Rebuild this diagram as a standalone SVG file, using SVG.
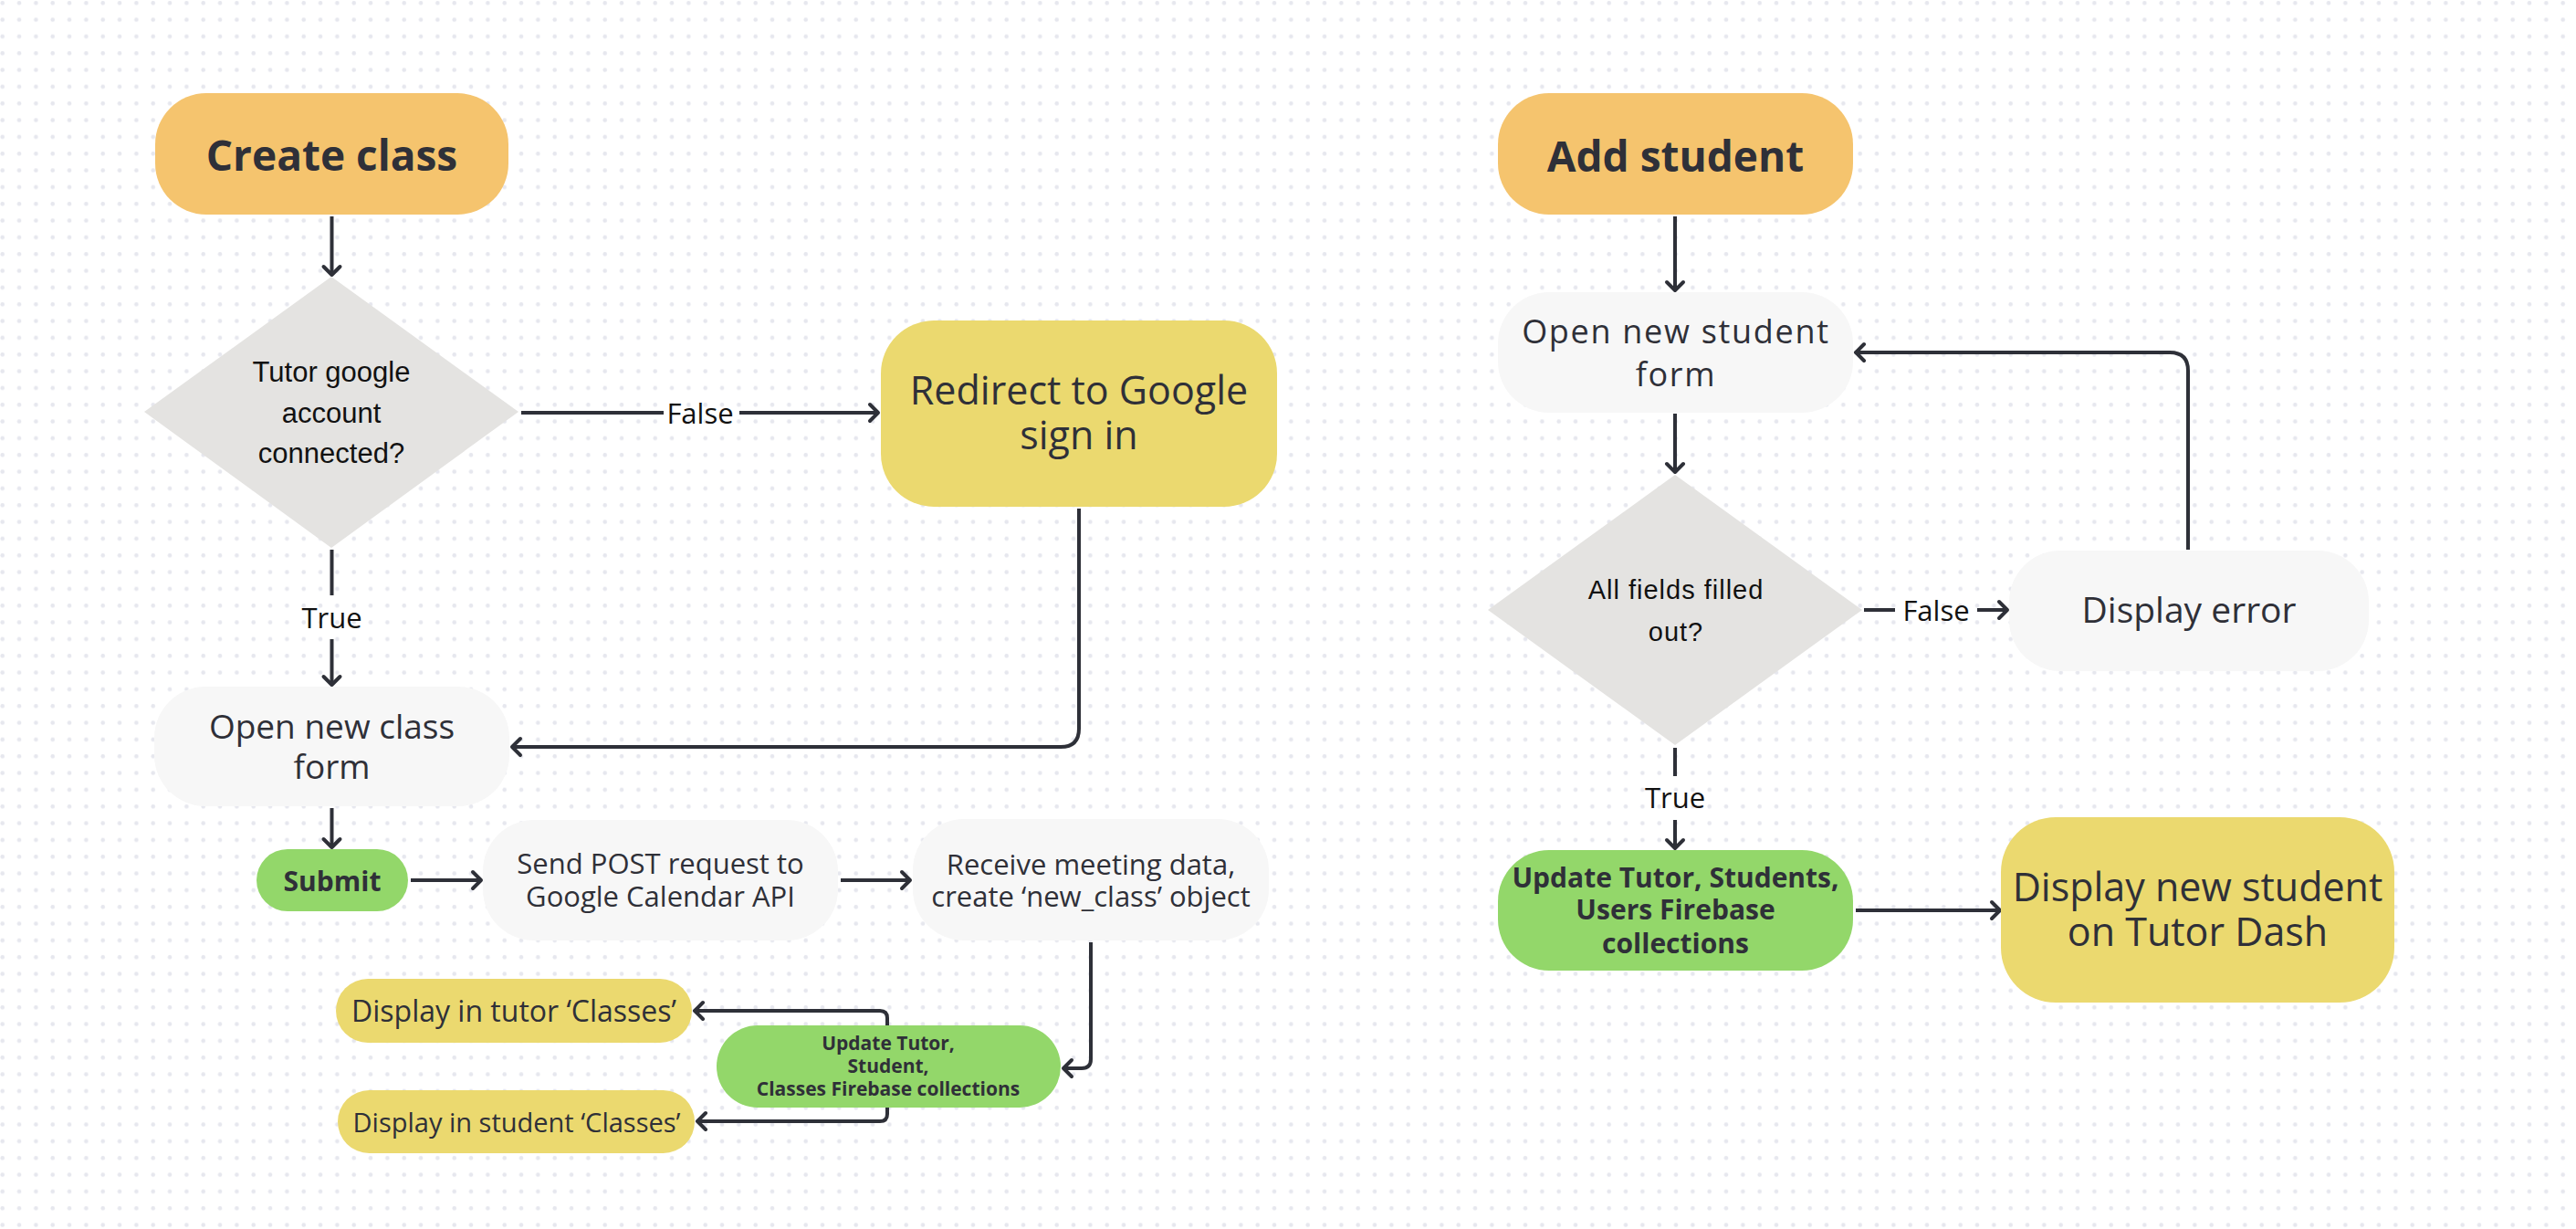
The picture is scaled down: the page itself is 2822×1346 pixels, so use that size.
<svg xmlns="http://www.w3.org/2000/svg" width="2822" height="1346" viewBox="0 0 2822 1346">
<defs>
<pattern id="dots" patternUnits="userSpaceOnUse" x="0" y="0" width="18.333" height="18.333">
<circle cx="2.7" cy="3.3" r="2.3" fill="#e6e7ee"/>
</pattern>
<marker id="arr" viewBox="-14 -13 17 26" refX="0" refY="0" markerWidth="17" markerHeight="26" markerUnits="userSpaceOnUse" orient="auto">
<path d="M-9,-9 L0,0 L-9,9" fill="none" stroke="#2e3038" stroke-width="4" stroke-linecap="round" stroke-linejoin="round"/>
</marker>
<style>
.orange{fill:#f5c46e}
.yellow{fill:#ebd96f}
.green{fill:#93d76a}
.grey{fill:#f7f7f7}
.dia{fill:#e4e3e1}
.t{font-family:"Open Sans","Liberation Sans",sans-serif;fill:#2f3038;text-anchor:middle}
.b{font-weight:700}
.a{font-family:"Liberation Sans",Arial,sans-serif;fill:#111;text-anchor:middle}
.lbl{font-family:"Open Sans","Liberation Sans",sans-serif;fill:#111;text-anchor:middle;font-size:31px}
.c{fill:none;stroke:#2e3038;stroke-width:4;stroke-linejoin:round}
.ar{marker-end:url(#arr)}
</style>
</defs>
<rect width="2822" height="1346" fill="#ffffff"/>
<rect width="2822" height="1346" fill="url(#dots)"/>

<g id="connectors">
<path class="c ar" d="M363.5,237 V301"/>
<path class="c" d="M571,452 H727"/>
<path class="c ar" d="M810,452 H962"/>
<text class="lbl" x="767" y="464">False</text>
<path class="c ar" d="M1182,557 V798 Q1182,818 1162,818 H561"/>
<path class="c" d="M363.5,602 V652"/>
<text class="lbl" x="363.5" y="688">True</text>
<path class="c ar" d="M363.5,700 V750"/>
<path class="c ar" d="M363.5,885 V928"/>
<path class="c ar" d="M450,964 H527"/>
<path class="c ar" d="M921,964 H997"/>
<path class="c ar" d="M1195,1032 V1160 Q1195,1170 1185,1170 H1165"/>
<path class="c ar" d="M972,1123 V1115 Q972,1107 964,1107 H761"/>
<path class="c ar" d="M972,1213 V1220 Q972,1228 964,1228 H764"/>

<path class="c ar" d="M1835,237 V318"/>
<path class="c ar" d="M1835,453 V517"/>
<path class="c ar" d="M2397,602 V406 Q2397,386 2377,386 H2033"/>
<path class="c" d="M2042,668 H2076"/>
<text class="lbl" x="2121" y="680">False</text>
<path class="c ar" d="M2166,668 H2199"/>
<path class="c" d="M1835,819 V850"/>
<text class="lbl" x="1835" y="885">True</text>
<path class="c ar" d="M1835,898 V929"/>
<path class="c ar" d="M2033,997 H2191"/>
</g>

<g id="create-class">
<rect class="orange" x="170" y="102" width="387" height="133" rx="56"/>
<text class="t b" x="363.5" y="187" font-size="46">Create class</text>
</g>
<g id="tutor-google-connected">
<polygon class="dia" points="363,303 568,451 363,600 158,451"/>
<text class="a" x="363" y="418" font-size="31">Tutor google</text>
<text class="a" x="363" y="463" font-size="31">account</text>
<text class="a" x="363" y="507" font-size="31">connected?</text>
</g>
<g id="redirect-google">
<rect class="yellow" x="965" y="351" width="434" height="204" rx="58"/>
<text class="t" x="1182" y="443" font-size="43">Redirect to Google</text>
<text class="t" x="1182" y="492" font-size="43">sign in</text>
</g>
<g id="open-class-form">
<rect class="grey" x="169" y="752" width="389" height="131" rx="56"/>
<text class="t" x="363.5" y="809" font-size="37">Open new class</text>
<text class="t" x="363.5" y="853" font-size="37">form</text>
</g>
<g id="submit">
<rect class="green" x="281" y="930" width="166" height="68" rx="34"/>
<text class="t b" x="364" y="976" font-size="30">Submit</text>
</g>
<g id="send-post">
<rect class="grey" x="529" y="898" width="389" height="132" rx="56"/>
<text class="t" x="723.5" y="957" font-size="31">Send POST request to</text>
<text class="t" x="723.5" y="993" font-size="31">Google Calendar API</text>
</g>
<g id="receive-meeting">
<rect class="grey" x="1000" y="897" width="390" height="133" rx="56"/>
<text class="t" x="1195" y="958" font-size="31">Receive meeting data,</text>
<text class="t" x="1195" y="993" font-size="31">create ‘new_class’ object</text>
</g>
<g id="update-classes">
<rect class="green" x="785" y="1123" width="377" height="90" rx="45"/>
<text class="t b" x="973" y="1150" font-size="21">Update Tutor,</text>
<text class="t b" x="973" y="1175" font-size="21">Student,</text>
<text class="t b" x="973" y="1200" font-size="21">Classes Firebase collections</text>
</g>
<g id="display-tutor">
<rect class="yellow" x="368" y="1072" width="390" height="70" rx="35"/>
<text class="t" x="563" y="1119" font-size="32">Display in tutor ‘Classes’</text>
</g>
<g id="display-student">
<rect class="yellow" x="370" y="1194" width="391" height="69" rx="34.5"/>
<text class="t" x="566" y="1240" font-size="29">Display in student ‘Classes’</text>
</g>

<g id="add-student">
<rect class="orange" x="1641" y="102" width="389" height="133" rx="56"/>
<text class="t b" x="1835.5" y="188" font-size="46">Add student</text>
</g>
<g id="open-student-form">
<rect class="grey" x="1641" y="320" width="389" height="132" rx="56"/>
<text class="t" x="1836" y="376" font-size="36" letter-spacing="1.7">Open new student</text>
<text class="t" x="1836" y="423" font-size="36" letter-spacing="1.7">form</text>
</g>
<g id="all-fields-filled">
<polygon class="dia" points="1835,520 2040,668 1835,816 1630,668"/>
<text class="a" x="1836" y="656" font-size="29" letter-spacing="1">All fields filled</text>
<text class="a" x="1836" y="702" font-size="29" letter-spacing="1">out?</text>
</g>
<g id="display-error">
<rect class="grey" x="2201" y="603" width="394" height="132" rx="56"/>
<text class="t" x="2398" y="682" font-size="39">Display error</text>
</g>
<g id="update-students">
<rect class="green" x="1641" y="931" width="389" height="132" rx="56"/>
<text class="t b" x="1835.5" y="972" font-size="30">Update Tutor, Students,</text>
<text class="t b" x="1835.5" y="1007" font-size="30">Users Firebase</text>
<text class="t b" x="1835.5" y="1044" font-size="30">collections</text>
</g>
<g id="display-new-student">
<rect class="yellow" x="2192" y="895" width="431" height="203" rx="60"/>
<text class="t" x="2407.5" y="987" font-size="43">Display new student</text>
<text class="t" x="2407.5" y="1036" font-size="43">on Tutor Dash</text>
</g>
</svg>
